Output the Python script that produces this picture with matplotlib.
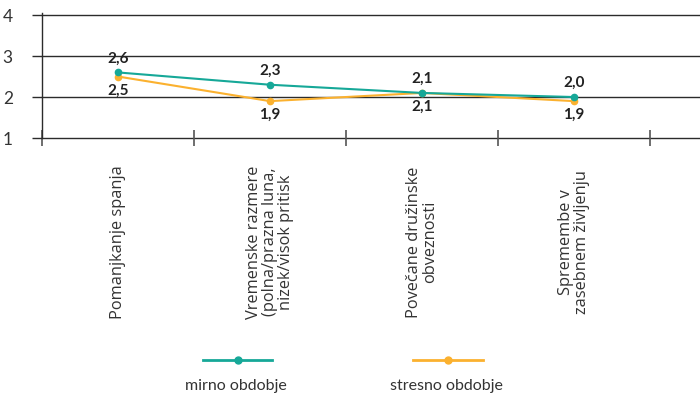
import numpy as np
import matplotlib
matplotlib.use("Agg")
import matplotlib.pyplot as plt
from matplotlib.lines import Line2D
import matplotlib.transforms as mtransforms

categories = [
    "Pomanjkanje spanja",
    "Vremenske razmere\n(polna/prazna luna,\nnizek/visok pritisk",
    "Povečane družinske\nobveznosti",
    "Spremembe v\nzasebnem življenju",
]
mirno = [2.6, 2.3, 2.1, 2.0]
stresno = [2.5, 1.9, 2.1, 1.9]
series_names = ["mirno obdobje", "stresno obdobje"]
y_ticks = [1, 2, 3, 4]

teal = "#16a898"
orange = "#fbb12f"
narrow = ["Lato", "DejaVu Sans"]

fig = plt.figure(figsize=(7, 3.94), dpi=100)
ax = fig.add_axes([0.06, 0.6497, 0.94, 0.3173])

x = np.arange(len(categories)) + 0.5
ax.set_xlim(0, 4.33)
ax.set_ylim(1, 4.05)

# horizontal grid lines
for yv in y_ticks:
    ax.axhline(yv, color="#2b2b2b", lw=1.0, zorder=1, clip_on=False)

ax.plot(x, mirno, color=teal, lw=1.5, marker="o", ms=4.5, zorder=3)
ax.plot(x, stresno, color=orange, lw=1.5, marker="o", ms=4.5, zorder=2)

for xi, a, b in zip(x, mirno, stresno):
    ax.annotate(f"{a:.1f}".replace(".", ","), (xi, a), xytext=(0, 5),
                textcoords="offset points", ha="center", va="bottom",
                fontsize=11, fontweight="bold", family=narrow, color="#222222")
    ax.annotate(f"{b:.1f}".replace(".", ","), (xi, b), xytext=(0, -5),
                textcoords="offset points", ha="center", va="top",
                fontsize=11, fontweight="bold", family=narrow, color="#222222")

for s in ["top", "right", "bottom"]:
    ax.spines[s].set_visible(False)
ax.spines["left"].set_color("#2b2b2b")
ax.spines["left"].set_linewidth(1.0)

ax.set_yticks(y_ticks)
ax.set_yticklabels([str(v) for v in y_ticks], family=narrow, fontsize=12.5, color="#333333")
ax.tick_params(axis="y", length=7, width=1.0, color="#2b2b2b", pad=14)
ax.set_xticks(np.arange(0, 5))
ax.set_xticklabels([])
ax.tick_params(axis="x", direction="inout", length=12, width=1.2, color="#555555")

# rotated category labels under the axis
trans = mtransforms.blended_transform_factory(ax.transData, fig.transFigure)
for xi, lab in zip(x, categories):
    ax.text(xi, 1 - 242 / 394, lab, transform=trans, rotation=90,
            ha="center", va="center", multialignment="center", linespacing=1.0,
            fontsize=11.8, family=["Open Sans", "DejaVu Sans"], color="#333333")

# legend drawn below the chart
legend_items = [(series_names[0], teal, 203, 272), (series_names[1], orange, 413, 483)]
for name, col, x0, x1 in legend_items:
    fig.add_artist(Line2D([x0 / 700, x1 / 700], [1 - 360 / 394] * 2,
                          transform=fig.transFigure, color=col, lw=2.0))
    fig.add_artist(Line2D([(x0 + x1) / 1400], [1 - 360 / 394],
                          transform=fig.transFigure, color=col, marker="o", ms=5))
    fig.text((x0 + x1) / 1400 - 0.002, 1 - 386 / 394, name, ha="center", va="center",
             fontsize=11.5, family=narrow, color="#333333")

fig.savefig("out.png", dpi=100)
